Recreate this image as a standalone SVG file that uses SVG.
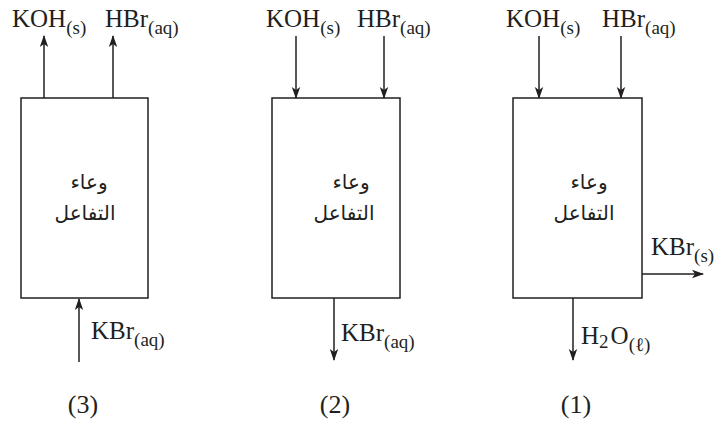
<svg xmlns="http://www.w3.org/2000/svg" width="714" height="421" viewBox="0 0 714 421">
  <defs>
    <marker id="arrow" viewBox="0 0 12 10" markerWidth="12" markerHeight="10" refX="11" refY="5" orient="auto" markerUnits="userSpaceOnUse">
      <path d="M0,0.8 L12,5 L0,9.2 L3,5 Z" fill="#231f20"/>
    </marker>
  </defs>
  <style>
    .vessel { fill: #ffffff; stroke: #231f20; stroke-width: 1.5; }
    .flow { stroke: #231f20; stroke-width: 1.5; fill: none; marker-end: url(#arrow); }
    .chem { font-family: "Liberation Serif", "Times New Roman", serif; font-size: 25px; fill: #231f20; }
    .sub { font-size: 19px; }
    .ar { font-family: "DejaVu Sans", "Noto Sans", sans-serif; font-size: 20px; fill: #231f20; text-anchor: middle; }
    .num { font-family: "Liberation Serif", "Times New Roman", serif; font-size: 26px; fill: #231f20; text-anchor: middle; }
  </style>
  <rect width="714" height="421" fill="#ffffff"/>

  <!-- Vessel (3): all species leave through the top, KBr enters from below -->
  <g id="vessel3">
    <rect class="vessel" x="21" y="98" width="127" height="200"/>
    <text class="ar" x="89" y="189" direction="rtl">وعاء</text>
    <text class="ar" x="85" y="220" direction="rtl">التفاعل</text>
    <text class="chem" x="12" y="27">KOH<tspan class="sub" dy="7">(s)</tspan></text>
    <text class="chem" x="105" y="27">HBr<tspan class="sub" dy="7">(aq)</tspan></text>
    <text class="chem" x="91" y="339">KBr<tspan class="sub" dy="7">(aq)</tspan></text>
    <text class="num" x="83" y="413">(3)</text>
  </g>

  <!-- Vessel (2): reactants in, aqueous KBr out -->
  <g id="vessel2">
    <rect class="vessel" x="272" y="98" width="128" height="200"/>
    <text class="ar" x="351" y="189" direction="rtl">وعاء</text>
    <text class="ar" x="344" y="220" direction="rtl">التفاعل</text>
    <text class="chem" x="266" y="27">KOH<tspan class="sub" dy="7">(s)</tspan></text>
    <text class="chem" x="357" y="27">HBr<tspan class="sub" dy="7">(aq)</tspan></text>
    <text class="chem" x="341" y="341">KBr<tspan class="sub" dy="7">(aq)</tspan></text>
    <text class="num" x="335" y="413">(2)</text>
  </g>

  <!-- Vessel (1): reactants in, solid KBr and water out -->
  <g id="vessel1">
    <rect class="vessel" x="513" y="98" width="129" height="200"/>
    <text class="ar" x="589" y="189" direction="rtl">وعاء</text>
    <text class="ar" x="584" y="220" direction="rtl">التفاعل</text>
    <text class="chem" x="506" y="27">KOH<tspan class="sub" dy="7">(s)</tspan></text>
    <text class="chem" x="602" y="27">HBr<tspan class="sub" dy="7">(aq)</tspan></text>
    <text class="chem" x="651" y="255">KBr<tspan class="sub" dy="7">(s)</tspan></text>
    <text class="chem" x="581" y="344">H<tspan class="sub" dy="4">2</tspan><tspan dx="2" dy="-4">O</tspan><tspan class="sub" dy="7">(ℓ)</tspan></text>
    <text class="num" x="576" y="413">(1)</text>
  </g>

  <!-- Flow arrows -->
  <g id="connectors">
    <line class="flow" x1="44" y1="98" x2="44" y2="36"/>
    <line class="flow" x1="113" y1="98" x2="113" y2="36"/>
    <line class="flow" x1="79" y1="362" x2="79" y2="299"/>

    <line class="flow" x1="296" y1="36" x2="296" y2="98"/>
    <line class="flow" x1="384" y1="36" x2="384" y2="98"/>
    <line class="flow" x1="334" y1="298" x2="334" y2="360"/>

    <line class="flow" x1="539" y1="36" x2="539" y2="98"/>
    <line class="flow" x1="621" y1="36" x2="621" y2="98"/>
    <line class="flow" x1="573" y1="298" x2="573" y2="360"/>
    <line class="flow" x1="642" y1="274" x2="703" y2="274"/>
  </g>
</svg>
